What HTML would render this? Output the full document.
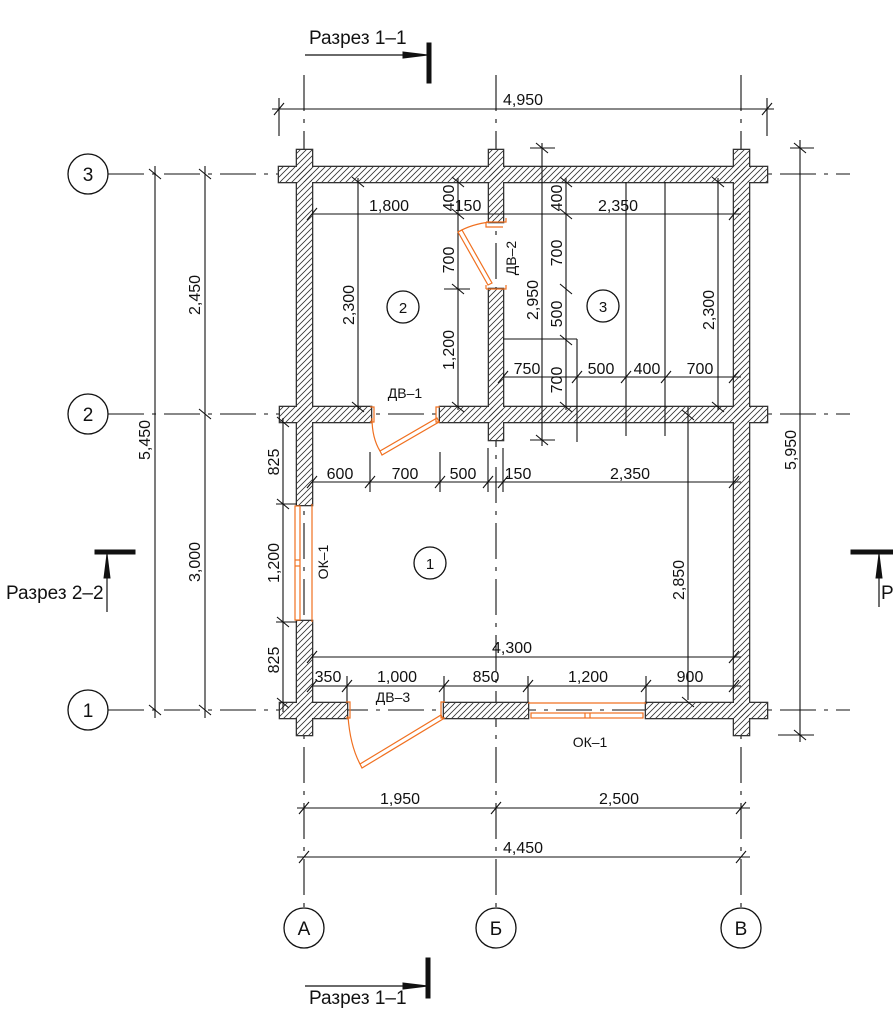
<!DOCTYPE html>
<html><head><meta charset="utf-8"><style>
html,body{margin:0;padding:0;background:#fff}
svg{display:block}
text{font-family:"Liberation Sans Narrow","Liberation Sans",sans-serif;fill:#111}
</style></head><body>
<svg width="893" height="1009" viewBox="0 0 893 1009" xmlns="http://www.w3.org/2000/svg">
<defs>
<pattern id="h" patternUnits="userSpaceOnUse" width="6" height="6">
<path d="M-1 7 L7 -1 M-1 1 L1 -1 M5 7 L7 5" stroke="#333" stroke-width="0.8"/>
</pattern>
</defs>

<!-- axes -->
<g stroke="#111" stroke-width="1.1" fill="none" stroke-dasharray="36 8 4 8">
<line x1="108" y1="174" x2="850" y2="174"/>
<line x1="108" y1="414" x2="850" y2="414"/>
<line x1="108" y1="710" x2="850" y2="710"/>
<line x1="304" y1="75" x2="304" y2="908"/>
<line x1="496" y1="75" x2="496" y2="908"/>
<line x1="741" y1="75" x2="741" y2="908"/>
</g>

<!-- walls -->
<g id="w">
<g stroke="#333" stroke-width="2.6" fill="#fff">
<rect x="279" y="167" width="488" height="15"/>
<rect x="297" y="150" width="15" height="355"/>
<rect x="297" y="621" width="15" height="114"/>
<rect x="734" y="150" width="15" height="585"/>
<rect x="489" y="150" width="14" height="72"/>
<rect x="489" y="289" width="14" height="151"/>
<rect x="280" y="407" width="91" height="15"/>
<rect x="440" y="407" width="327" height="15"/>
<rect x="280" y="703" width="67" height="15"/>
<rect x="444" y="703" width="84" height="15"/>
<rect x="646" y="703" width="121" height="15"/>
</g>
<g fill="#fff">
<rect x="279" y="167" width="488" height="15"/>
<rect x="297" y="150" width="15" height="355"/>
<rect x="297" y="621" width="15" height="114"/>
<rect x="734" y="150" width="15" height="585"/>
<rect x="489" y="150" width="14" height="72"/>
<rect x="489" y="289" width="14" height="151"/>
<rect x="280" y="407" width="91" height="15"/>
<rect x="440" y="407" width="327" height="15"/>
<rect x="280" y="703" width="67" height="15"/>
<rect x="444" y="703" width="84" height="15"/>
<rect x="646" y="703" width="121" height="15"/>
</g>
<g fill="url(#h)">
<rect x="279" y="167" width="488" height="15"/>
<rect x="297" y="150" width="15" height="355"/>
<rect x="297" y="621" width="15" height="114"/>
<rect x="734" y="150" width="15" height="585"/>
<rect x="489" y="150" width="14" height="72"/>
<rect x="489" y="289" width="14" height="151"/>
<rect x="280" y="407" width="91" height="15"/>
<rect x="440" y="407" width="327" height="15"/>
<rect x="280" y="703" width="67" height="15"/>
<rect x="444" y="703" width="84" height="15"/>
<rect x="646" y="703" width="121" height="15"/>
</g>
</g>

<!-- dimension lines -->
<g stroke="#111" stroke-width="1.1" fill="none">
<line x1="272" y1="109" x2="774" y2="109"/>
<line x1="279" y1="98" x2="279" y2="136"/><line x1="767" y1="98" x2="767" y2="136"/>
<path d="M274 115 L284 103 M762 115 L772 103"/>
<line x1="155" y1="166" x2="155" y2="718"/>
<line x1="205" y1="166" x2="205" y2="718"/>
<path d="M149 169 L161 179 M149 705 L161 715 M199 169 L211 179 M199 409 L211 419 M199 705 L211 715"/>
<line x1="800" y1="140" x2="800" y2="742"/>
<line x1="790" y1="148" x2="814" y2="148"/><line x1="778" y1="735" x2="814" y2="735"/>
<path d="M794 143 L806 153 M794 730 L806 740"/>
<line x1="542" y1="143" x2="542" y2="446"/>
<line x1="530" y1="148" x2="555" y2="148"/><line x1="530" y1="440" x2="555" y2="440"/>
<path d="M536 143 L548 153 M536 435 L548 445"/>
<line x1="297" y1="808" x2="750" y2="808"/>
<line x1="297" y1="857" x2="750" y2="857"/>
<path d="M299 814 L309 802 M491 814 L501 802 M736 814 L746 802 M299 863 L309 851 M736 863 L746 851"/>

<line x1="312" y1="214" x2="503" y2="214"/>
<path d="M307 220 L317 208"/>
<line x1="358" y1="178" x2="358" y2="410"/>
<path d="M352 177 L364 187 M352 402 L364 412"/>
<line x1="458" y1="178" x2="458" y2="410"/>
<line x1="444" y1="289" x2="470" y2="289"/>
<line x1="444" y1="214" x2="470" y2="214"/>
<path d="M452 177 L464 187 M452 209 L464 219 M452 284 L464 294 M452 402 L464 412"/>
<line x1="496" y1="214" x2="741" y2="214"/>
<path d="M729 220 L739 208"/>
<line x1="566" y1="178" x2="566" y2="410"/>
<path d="M560 177 L572 187 M560 209 L572 219 M560 284 L572 294 M560 335 L572 345 M560 402 L572 412"/>
<line x1="503" y1="339" x2="577" y2="339"/>
<line x1="577" y1="339" x2="577" y2="442"/>
<line x1="503" y1="377" x2="741" y2="377"/>
<path d="M498 383 L508 371 M572 383 L582 371 M621 383 L631 371 M661 383 L671 371 M729 383 L739 371"/>
<line x1="626" y1="182" x2="626" y2="436"/>
<line x1="665" y1="182" x2="665" y2="436"/>
<line x1="718" y1="178" x2="718" y2="410"/>
<path d="M712 177 L724 187 M712 402 L724 412"/>
<line x1="688" y1="407" x2="688" y2="700"/>
<path d="M682 410 L694 420 M682 697 L694 707"/>
<line x1="312" y1="482" x2="741" y2="482"/>
<path d="M307 488 L317 476 M365 488 L375 476 M435 488 L445 476 M483 488 L493 476 M498 488 L508 476 M729 488 L739 476"/>
<line x1="370" y1="452" x2="370" y2="492"/>
<line x1="440" y1="452" x2="440" y2="492"/>
<line x1="488" y1="448" x2="488" y2="492"/>
<line x1="503" y1="448" x2="503" y2="492"/>
<line x1="283" y1="418" x2="283" y2="712"/>
<line x1="276" y1="504" x2="297" y2="504"/><line x1="276" y1="622" x2="297" y2="622"/>
<path d="M277 417 L289 427 M277 499 L289 509 M277 617 L289 627 M277 698 L289 708"/>
<line x1="312" y1="657" x2="741" y2="657"/>
<path d="M307 663 L317 651 M729 663 L739 651"/>
<line x1="312" y1="686" x2="741" y2="686"/>
<line x1="347" y1="676" x2="347" y2="703"/><line x1="444" y1="676" x2="444" y2="703"/>
<line x1="528" y1="676" x2="528" y2="703"/><line x1="646" y1="676" x2="646" y2="703"/>
<path d="M342 692 L352 680 M439 692 L449 680 M523 692 L533 680 M641 692 L651 680 M729 692 L739 680 M307 692 L317 680"/>
</g>

<!-- doors & windows -->
<g stroke="#f07020" stroke-width="1.2" fill="none">
<path d="M486 222 h20 v-4 M486 222 v5 h17"/>
<path d="M486 289 h20 v-4 M486 289 v-4"/>
<path d="M458 232 Q472 224 490 222"/>
<path d="M458 232 L488 285 L492 283 L462 230 Z"/>
<path d="M370 407 h4 v15 h-4 M440 407 h-4 v15 h4"/>
<path d="M372 418 Q372 438 380 451"/>
<path d="M380 451 L437 418 L439 422 L382 455 Z"/>
<path d="M346 702 h4 v16 h-4 M445 702 h-4 v16 h4"/>
<path d="M348 716 Q350 745 360 764"/>
<path d="M360 764 L441 715 L443 719 L362 768 Z"/>
<line x1="528" y1="703" x2="646" y2="703"/>
<rect x="531" y="713" width="112" height="5"/>
<line x1="585" y1="713" x2="585" y2="718"/><line x1="590" y1="713" x2="590" y2="718"/>
<line x1="312" y1="504" x2="312" y2="622"/>
<rect x="295" y="506" width="5" height="114"/>
<line x1="295" y1="560" x2="300" y2="560"/><line x1="295" y1="566" x2="300" y2="566"/>
</g>

<!-- circles -->
<g stroke="#111" stroke-width="1.3" fill="#fff">
<circle cx="88" cy="174" r="20"/><circle cx="88" cy="414" r="20"/><circle cx="88" cy="710" r="20"/>
<circle cx="304" cy="928" r="20"/><circle cx="496" cy="928" r="20"/><circle cx="741" cy="928" r="20"/>
<circle cx="403" cy="307" r="16"/><circle cx="603" cy="306" r="16"/><circle cx="430" cy="563" r="16"/>
</g>
<g font-size="19" text-anchor="middle">
<text x="88" y="181">3</text><text x="88" y="421">2</text><text x="88" y="717">1</text>
<text x="304" y="935">А</text><text x="496" y="935">Б</text><text x="741" y="935">В</text>
</g>
<g font-size="15" text-anchor="middle">
<text x="403" y="313">2</text><text x="603" y="312">3</text><text x="430" y="569">1</text>
</g>

<!-- section marks -->
<g stroke="#111" fill="#111">
<line x1="305" y1="55" x2="410" y2="55" stroke-width="1.2"/>
<path d="M403 52 L428 55 L403 58 Z"/>
<rect x="427" y="43" width="4" height="40"/>
<line x1="305" y1="986" x2="410" y2="986" stroke-width="1.2"/>
<path d="M403 983 L428 986 L403 989 Z"/>
<rect x="426" y="958" width="4" height="40"/>
<rect x="95" y="550" width="40" height="4"/>
<line x1="107" y1="554" x2="107" y2="612" stroke-width="1.2"/>
<path d="M104 578 L107 554 L110 578 Z"/>
<rect x="851" y="550" width="42" height="4"/>
<line x1="879" y1="554" x2="879" y2="607" stroke-width="1.2"/>
<path d="M876 578 L879 554 L882 578 Z"/>
</g>
<g font-size="19">
<text x="309" y="44">Разрез 1–1</text>
<text x="309" y="1004">Разрез 1–1</text>
<text x="6" y="599">Разрез 2–2</text>
<text x="881" y="599">Р</text>
</g>

<!-- dimension texts -->
<g font-size="16" text-anchor="middle">
<text x="523" y="105">4,950</text>
<text x="389" y="211">1,800</text>
<text x="468" y="211">150</text>
<text x="618" y="211">2,350</text>
<text x="527" y="374">750</text>
<text x="601" y="374">500</text>
<text x="647" y="374">400</text>
<text x="700" y="374">700</text>
<text x="340" y="479">600</text>
<text x="405" y="479">700</text>
<text x="463" y="479">500</text>
<text x="518" y="479">150</text>
<text x="630" y="479">2,350</text>
<text x="512" y="653">4,300</text>
<text x="328" y="682">350</text>
<text x="397" y="682">1,000</text>
<text x="486" y="682">850</text>
<text x="588" y="682">1,200</text>
<text x="690" y="682">900</text>
<text x="400" y="804">1,950</text>
<text x="619" y="804">2,500</text>
<text x="523" y="853">4,450</text>
<text x="405" y="398" font-size="14">ДВ–1</text>
<text x="393" y="702" font-size="14">ДВ–3</text>
<text x="590" y="747" font-size="14">ОК–1</text>
<g transform="rotate(-90)">
<text x="-440" y="150">5,450</text>
<text x="-295" y="200">2,450</text>
<text x="-562" y="200">3,000</text>
<text x="-450" y="796">5,950</text>
<text x="-300" y="538">2,950</text>
<text x="-305" y="354">2,300</text>
<text x="-310" y="714">2,300</text>
<text x="-580" y="684">2,850</text>
<text x="-198" y="454">400</text>
<text x="-260" y="454">700</text>
<text x="-350" y="454">1,200</text>
<text x="-198" y="562">400</text>
<text x="-253" y="562">700</text>
<text x="-314" y="562">500</text>
<text x="-380" y="562">700</text>
<text x="-462" y="279">825</text>
<text x="-563" y="279">1,200</text>
<text x="-660" y="279">825</text>
<text x="-258" y="516" font-size="14">ДВ–2</text>
<text x="-562" y="328" font-size="14">ОК–1</text>
</g>
</g>
</svg>
</body></html>
